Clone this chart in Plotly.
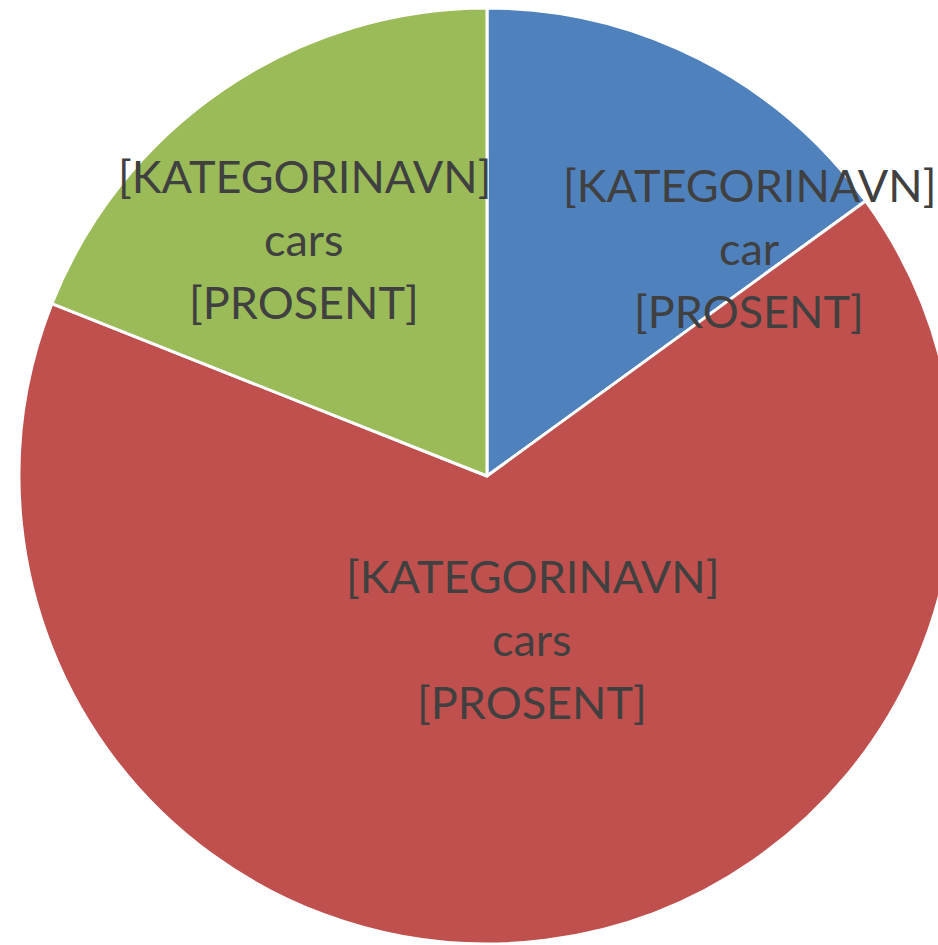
import plotly.graph_objects as go

# slice data (clockwise from 12 o'clock)
categories = ["Kategori 1", "Kategori 2", "Kategori 3"]
values = [15, 66, 19]
units = ["car", "cars", "cars"]
colors = ["#4F81BD", "#C0504D", "#9BBB59"]

# page is a bit larger than the window so the pie can overflow right/bottom
W, H = 974, 952
# label anchor points in pixels (centre of the first line)
label_pos = [(749, 185), (532, 576), (304, 176)]
LINE_STEP = 63


fig = go.Figure(
    go.Pie(
        labels=categories,
        values=values,
        sort=False,
        direction="clockwise",
        rotation=0,
        marker=dict(colors=colors, line=dict(color="white", width=3)),
        textinfo="none",
        hoverinfo="skip",
        showlegend=False,
        domain=dict(x=[0, 1], y=[8 / H, 944 / H]),
    )
)

for (px_, py_), unit in zip(label_pos, units):
    lines = ["[KATEGORINAVN]", unit, "[PROSENT]"]
    for i, line in enumerate(lines):
        fig.add_annotation(
            text=line,
            x=px_ / W,
            y=1 - (py_ + i * LINE_STEP) / H,
            xref="paper",
            yref="paper",
            xanchor="center",
            yanchor="middle",
            showarrow=False,
            font=dict(family="Lato", size=45, color="#404040"),
        )

fig.update_layout(
    width=W,
    height=H,
    margin=dict(l=0, r=0, t=0, b=0),
    paper_bgcolor="white",
    plot_bgcolor="white",
)

fig.write_html(
    "out.html",
    config={"displayModeBar": False},
    post_script="document.body.style.margin='0';"
    "document.body.style.overflow='hidden';"
    "document.documentElement.style.overflow='hidden';",
)
